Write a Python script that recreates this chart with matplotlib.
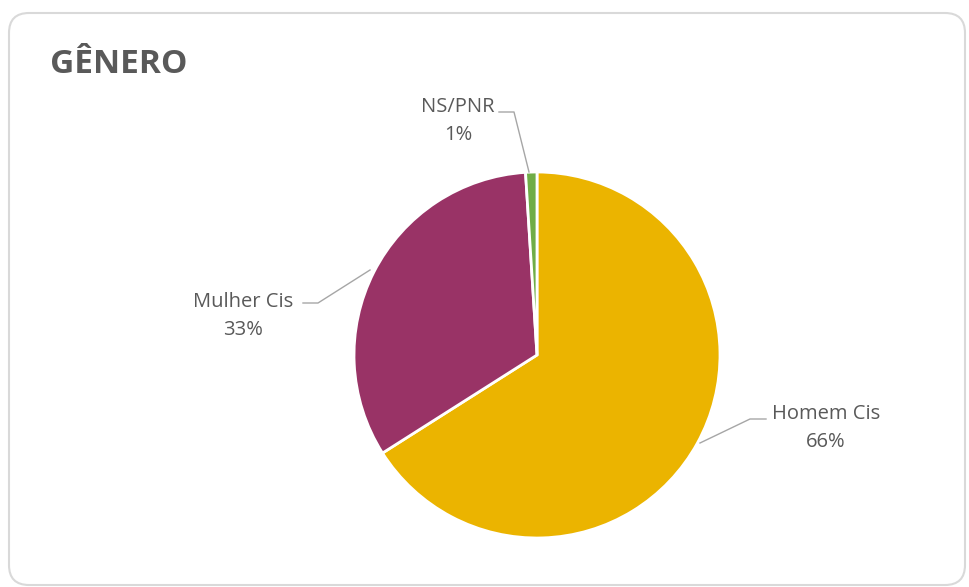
import matplotlib.pyplot as plt
from matplotlib.patches import FancyBboxPatch

# data
categorias = ['Homem Cis', 'Mulher Cis', 'NS/PNR']
valores = [66, 33, 1]
cores = ['#EBB400', '#993366', '#70AD47']

W, H = 970, 587
fig = plt.figure(figsize=(W / 100, H / 100), dpi=100)
ax = fig.add_axes([0, 0, 1, 1])

# card frame
frame = FancyBboxPatch((9, 2), W - 14, H - 15, boxstyle='round,pad=0,rounding_size=20',
                       facecolor='white', edgecolor='#D9D9D9', linewidth=1.5, zorder=0)
ax.add_patch(frame)

cx, cy, r = 537, H - 355, 183
wedges, _ = ax.pie(valores, colors=cores, startangle=90, counterclock=False,
                   center=(cx, cy), radius=r, frame=True,
                   wedgeprops=dict(edgecolor='white', linewidth=2))
ax.set_xlim(0, W)
ax.set_ylim(0, H)
ax.set_aspect('equal')
ax.axis('off')

fs = 'Open Sans'
ax.text(50, H - 64, 'GÊNERO', fontsize=24, fontweight='bold', color='#595959',
        family=fs, va='center', ha='left')

# labels with leader lines
lab_pos = {'Homem Cis': (826, H - 428), 'Mulher Cis': (243, H - 316), 'NS/PNR': (458, H - 121)}
leaders = {
    'Homem Cis': [(766, H - 419), (750, H - 419), (700, H - 443)],
    'Mulher Cis': [(303, H - 303), (318, H - 303), (370, H - 270)],
    'NS/PNR': [(499, H - 112), (514, H - 112), (529, H - 172)],
}
for cat, v in zip(categorias, valores):
    x, y = lab_pos[cat]
    ax.text(x, y, f'{cat}\n{v}%', fontsize=14.5, color='#595959', family=fs,
            ha='center', va='center', linespacing=1.55)
    xs, ys = zip(*leaders[cat])
    ax.plot(xs, ys, color='#A6A6A6', linewidth=1)

fig.savefig('out.png', dpi=100)
